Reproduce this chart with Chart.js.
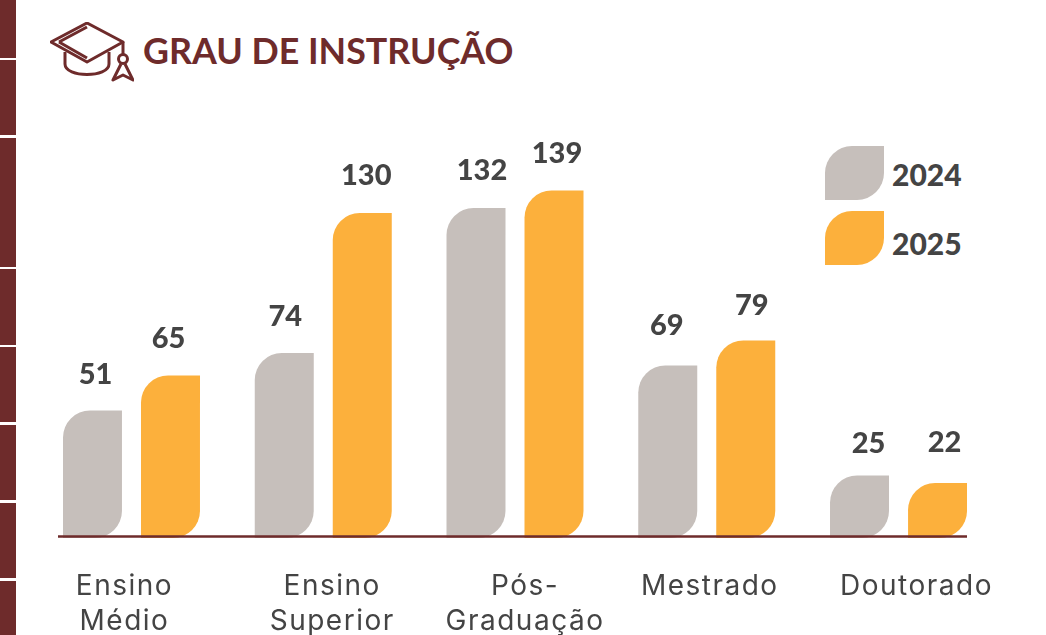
<!DOCTYPE html>
<html lang="pt-BR">

<head>
    <meta charset="UTF-8">
    <title>Grau de instrução</title>
    <script src="https://cdn.jsdelivr.net/npm/chart.js"></script>
    <style>
        html, body { margin: 0; padding: 0; background: #fff; overflow: hidden; }
        #page { position: relative; width: 1046px; height: 635px; overflow: hidden; font-family: Lato, sans-serif; }
        #title { position: absolute; left: 143px; top: 28px; margin: 0; font-size: 35.8px; line-height: 46px; font-weight: 700; color: #6e2b2b; white-space: nowrap; }
        #cap { position: absolute; left: 50px; top: 22px; }
        .swatch { position: absolute; left: 825px; width: 59px; height: 54px; border-radius: 27px 0 27px 0; }
        .key { position: absolute; left: 892px; font-size: 30px; line-height: 36px; font-weight: 900; color: #444; }
    </style>
</head>

<body>
    <div id="page">
        <svg id="cap" width="84" height="60" viewBox="0 0 84 60" fill="none" stroke="#6e2b2b" stroke-width="3" stroke-linejoin="round">
            <path d="M1 20 L37 1 L73 20 L37 40 Z"/>
            <path d="M9 20 L37 5"/>
            <path d="M9 20 L37 36"/>
            <path d="M15 30 V42 C15 56 59 56 59 42 V30"/>
            <path d="M73 20 V32"/>
            <circle cx="73" cy="37" r="4.5"/>
            <path d="M71 42 L63 58 L73 53 L83 58 L75 42"/>
        </svg>
        <h1 id="title">GRAU DE INSTRUÇÃO</h1>
        <div class="swatch" style="top:146px;background:#c6bfbb"></div>
        <div class="key" style="top:156px">2024</div>
        <div class="swatch" style="top:211px;background:#fcb03c"></div>
        <div class="key" style="top:225px">2025</div>
        <canvas id="myChart" width="1046" height="635" style="position:absolute;left:0;top:0"></canvas>
    </div>
    <script>
        const categories = [['Ensino', 'Médio'], ['Ensino', 'Superior'], ['Pós-', 'Graduação'], ['Mestrado'], ['Doutorado']];
        const values2024 = [51, 74, 132, 69, 25];
        const values2025 = [65, 130, 139, 79, 22];
        const series = ['2024', '2025'];

        // labels in the picture are not centred on their groups
        const labelShift = [-7, 9, 10, 3, 18];
        const valueShiftX = [[3, 1, 6, -1, 9], [-2, 4, 3, 6, 7]];
        const valueShiftY = [[2, 2, 1, -2, 6], [1, 1, 1, 3, -2]];

        // left red strip, cut by thin white lines
        const stripCuts = [[0, 58], [60, 135], [138, 267], [269, 345], [347, 422], [425, 500], [503, 578], [581, 635]];
        stripCuts.forEach(c => {
            const d = document.createElement('div');
            d.style.cssText = `position:absolute;left:0;width:16px;background:#6e2b2b;top:${c[0]}px;height:${c[1] - c[0]}px`;
            document.getElementById('page').appendChild(d);
        });

        const shiftLabels = {
            id: 'shiftLabels',
            afterLayout(chart) {
                chart.scales.x.getLabelItems().forEach((item, i) => {
                    item.options.translation[0] += labelShift[i];
                });
            },
            // the axis font is narrower than the one in the picture
            beforeDraw(chart) {
                chart.ctx.letterSpacing = '1.5px';
            }
        };

        const baseLine = {
            id: 'baseLine',
            afterDatasetsDraw(chart) {
                const y = chart.scales.y.getPixelForValue(0) - 1.5;
                const ctx = chart.ctx;
                ctx.save();
                ctx.strokeStyle = '#6e2b2b';
                ctx.lineWidth = 2.5;
                ctx.beginPath();
                ctx.moveTo(58, y);
                ctx.lineTo(967, y);
                ctx.stroke();
                ctx.restore();
            }
        };

        const valueLabels = {
            id: 'valueLabels',
            afterDatasetsDraw(chart) {
                const ctx = chart.ctx;
                ctx.save();
                ctx.letterSpacing = '0px';
                ctx.font = '900 29px Lato';
                ctx.fillStyle = '#444';
                ctx.textAlign = 'center';
                ctx.textBaseline = 'middle';
                chart.data.datasets.forEach((ds, d) => {
                    chart.getDatasetMeta(d).data.forEach((bar, i) => {
                        ctx.fillText(ds.data[i], bar.x + valueShiftX[d][i], bar.y - 38 + valueShiftY[d][i]);
                    });
                });
                ctx.restore();
            }
        };

        const leaf = { topLeft: 27, topRight: 0, bottomLeft: 0, bottomRight: 27 };

        new Chart(document.getElementById('myChart'), {
            type: 'bar',
            data: {
                labels: categories,
                datasets: [
                    { label: series[0], data: values2024, backgroundColor: '#c6bfbb' },
                    { label: series[1], data: values2025, backgroundColor: '#fcb03c' }
                ]
            },
            plugins: [shiftLabels, baseLine, valueLabels],
            options: {
                responsive: false,
                animation: false,
                categoryPercentage: 0.8136,
                barPercentage: 0.756,
                layout: { padding: { left: 35.6, right: 51.6, top: 0, bottom: 0 } },
                datasets: { bar: { borderRadius: leaf, borderSkipped: false, borderWidth: 0 } },
                plugins: { legend: { display: false }, tooltip: { enabled: false } },
                scales: {
                    y: { display: false, min: 0, max: 215.2 },
                    x: {
                        grid: { display: false },
                        border: { display: false },
                        afterFit(scale) { scale.height = 97; },
                        ticks: {
                            autoSkip: false,
                            maxRotation: 0,
                            padding: 23,
                            color: '#444',
                            font: { family: 'Inter', size: 28, lineHeight: 1.26 }
                        }
                    }
                }
            }
        });
    </script>

</body>

</html>
